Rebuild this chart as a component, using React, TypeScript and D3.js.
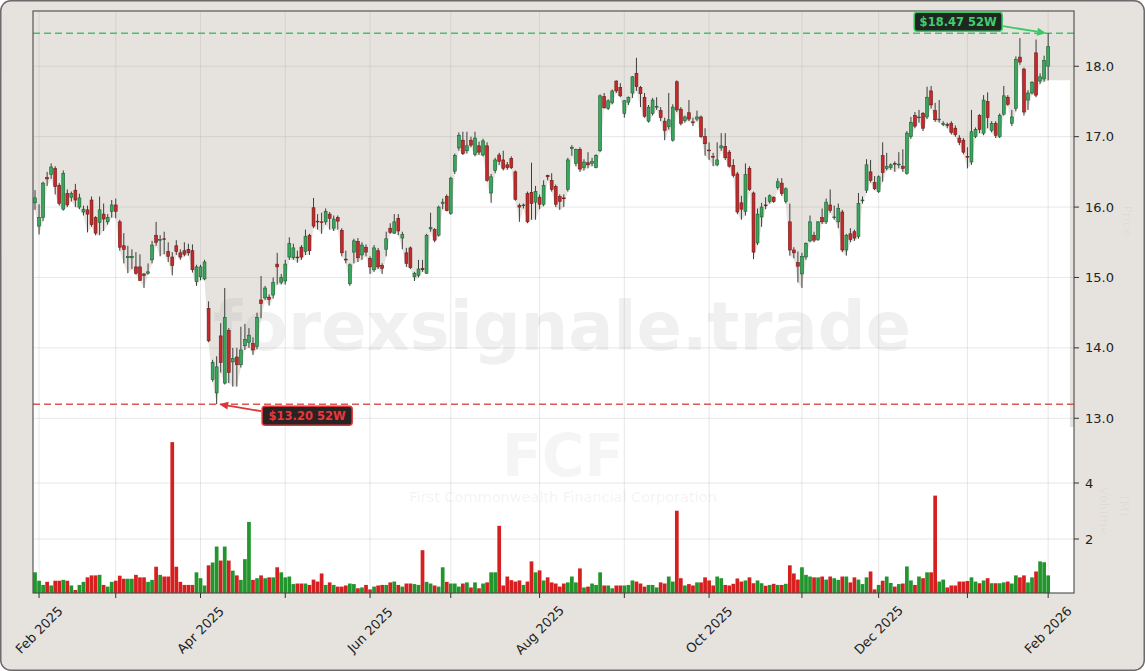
import React from 'react';
import * as d3 from 'd3';

// daily candles, Jan 31 2025 .. Feb 2 2026: [open, high, low, close]
const ohlc: [number, number, number, number][] = [
  [16.06, 16.24, 15.96, 16.13], [15.73, 16.04, 15.61, 15.85], [15.85, 16.36, 15.80, 16.34], [16.42, 16.50, 16.30, 16.40], [16.46, 16.62, 16.40, 16.57],
  [16.55, 16.58, 16.18, 16.29], [16.31, 16.34, 16.02, 16.05], [15.97, 16.52, 15.95, 16.48], [16.19, 16.25, 16.00, 16.03], [16.14, 16.22, 16.08, 16.19],
  // 10
  [16.24, 16.33, 16.00, 16.10], [16.00, 16.19, 15.97, 16.13], [15.93, 16.02, 15.88, 15.97], [15.96, 16.02, 15.64, 15.90], [16.10, 16.15, 15.72, 15.75],
  [15.85, 15.87, 15.60, 15.63], [15.78, 16.15, 15.60, 15.96], [15.90, 16.05, 15.66, 15.83], [15.79, 15.90, 15.75, 15.85], [15.94, 16.10, 15.85, 16.03],
  // 20
  [16.03, 16.12, 15.84, 15.94], [15.79, 15.82, 15.38, 15.43], [15.45, 15.63, 15.20, 15.40], [15.28, 15.45, 15.06, 15.30], [15.28, 15.40, 15.12, 15.30],
  [15.15, 15.36, 15.04, 15.06], [15.15, 15.33, 14.95, 14.96], [15.05, 15.06, 14.85, 15.03], [15.06, 15.20, 15.04, 15.08], [15.25, 15.52, 15.20, 15.46],
  // 30
  [15.60, 15.79, 15.45, 15.50], [15.53, 15.60, 15.30, 15.54], [15.55, 15.65, 15.33, 15.54], [15.37, 15.50, 15.22, 15.30], [15.29, 15.36, 15.03, 15.17],
  [15.45, 15.53, 15.32, 15.37], [15.35, 15.40, 15.25, 15.29], [15.38, 15.50, 15.30, 15.33], [15.40, 15.48, 15.31, 15.35], [15.38, 15.47, 15.07, 15.11],
  // 40
  [14.94, 15.18, 14.88, 15.15], [15.01, 15.18, 14.96, 15.15], [14.98, 15.25, 14.96, 15.22], [14.56, 14.66, 14.08, 14.10], [13.55, 13.83, 13.52, 13.79],
  [13.36, 13.88, 13.20, 13.73], [14.17, 14.35, 13.65, 13.79], [13.50, 14.85, 13.48, 14.43], [14.25, 14.28, 13.50, 13.65], [13.80, 14.00, 13.45, 13.85],
  // 50
  [13.87, 14.00, 13.45, 13.76], [13.76, 14.30, 13.72, 13.97], [14.03, 14.34, 13.97, 14.12], [14.08, 14.28, 14.00, 14.18], [14.06, 14.15, 13.90, 13.97],
  [14.02, 14.50, 13.98, 14.43], [14.68, 15.02, 14.42, 14.63], [14.71, 14.88, 14.68, 14.85], [14.72, 14.76, 14.60, 14.69], [14.75, 15.00, 14.70, 14.93],
  // 60
  [15.19, 15.35, 14.90, 15.15], [14.93, 15.05, 14.90, 15.00], [14.95, 15.25, 14.90, 15.19], [15.29, 15.57, 15.25, 15.48], [15.28, 15.48, 15.25, 15.42],
  [15.29, 15.38, 15.21, 15.28], [15.43, 15.46, 15.25, 15.29], [15.37, 15.68, 15.32, 15.58], [15.60, 15.62, 15.32, 15.38], [15.99, 16.13, 15.70, 15.73],
  // 70
  [15.80, 15.90, 15.68, 15.79], [15.79, 15.92, 15.62, 15.78], [15.79, 15.98, 15.75, 15.94], [15.90, 15.93, 15.68, 15.84], [15.70, 15.88, 15.66, 15.83],
  [15.85, 15.88, 15.68, 15.80], [15.67, 15.70, 15.30, 15.35], [15.26, 15.38, 15.20, 15.25], [14.91, 15.20, 14.88, 15.18], [15.36, 15.55, 15.20, 15.52],
  // 80
  [15.51, 15.56, 15.22, 15.28], [15.32, 15.50, 15.25, 15.46], [15.43, 15.47, 15.30, 15.36], [15.27, 15.30, 15.05, 15.15], [15.11, 15.46, 15.08, 15.42],
  [15.38, 15.42, 15.12, 15.15], [15.17, 15.20, 15.05, 15.13], [15.40, 15.65, 15.30, 15.55], [15.70, 15.77, 15.62, 15.64], [15.63, 15.90, 15.62, 15.79],
  // 90
  [15.84, 15.90, 15.60, 15.66], [15.56, 15.65, 15.40, 15.61], [15.35, 15.42, 15.15, 15.20], [15.42, 15.44, 15.12, 15.14], [15.01, 15.08, 14.95, 15.06],
  [15.03, 15.25, 15.00, 15.12], [15.13, 15.25, 15.08, 15.11], [15.06, 15.62, 15.05, 15.60], [15.69, 15.92, 15.65, 15.71], [15.68, 15.70, 15.50, 15.53],
  // 100
  [15.60, 16.02, 15.58, 16.00], [16.05, 16.12, 15.97, 16.07], [16.15, 16.18, 15.94, 15.95], [15.91, 16.43, 15.89, 16.41], [16.51, 16.76, 16.47, 16.73],
  [16.84, 17.06, 16.80, 17.02], [16.95, 17.07, 16.74, 16.76], [16.80, 17.07, 16.76, 16.87], [16.95, 17.00, 16.85, 16.88], [16.75, 17.07, 16.72, 16.98],
  // 110
  [16.87, 16.93, 16.74, 16.78], [16.74, 16.97, 16.72, 16.94], [16.87, 16.92, 16.36, 16.38], [16.20, 16.47, 16.06, 16.43], [16.52, 16.70, 16.48, 16.67],
  [16.74, 16.77, 16.60, 16.65], [16.67, 16.80, 16.52, 16.55], [16.60, 16.64, 16.53, 16.56], [16.69, 16.72, 16.54, 16.56], [16.50, 16.52, 16.09, 16.11],
  // 120
  [16.02, 16.05, 15.79, 16.00], [16.02, 16.05, 15.98, 16.03], [16.19, 16.22, 15.77, 15.79], [16.21, 16.63, 15.82, 16.05], [16.07, 16.30, 15.82, 16.22],
  [16.14, 16.18, 15.97, 16.04], [16.04, 16.38, 16.01, 16.31], [16.45, 16.46, 16.38, 16.43], [16.38, 16.48, 16.22, 16.25], [16.29, 16.32, 16.00, 16.04],
  // 130
  [16.15, 16.18, 15.96, 16.08], [16.13, 16.18, 16.00, 16.12], [16.25, 16.70, 16.22, 16.67], [16.83, 16.88, 16.73, 16.85], [16.62, 16.83, 16.58, 16.82],
  [16.82, 16.85, 16.50, 16.54], [16.56, 16.68, 16.52, 16.64], [16.63, 16.78, 16.55, 16.60], [16.62, 16.70, 16.58, 16.65], [16.56, 16.75, 16.55, 16.73],
  // 140
  [16.80, 17.60, 16.78, 17.58], [17.57, 17.62, 17.40, 17.41], [17.40, 17.53, 17.38, 17.51], [17.48, 17.67, 17.46, 17.65], [17.79, 17.80, 17.62, 17.65],
  [17.70, 17.76, 17.56, 17.58], [17.33, 17.52, 17.27, 17.51], [17.49, 17.57, 17.45, 17.56], [17.62, 17.86, 17.55, 17.85], [17.90, 18.12, 17.65, 17.71],
  // 150
  [17.70, 17.72, 17.42, 17.61], [17.56, 17.62, 17.27, 17.29], [17.22, 17.45, 17.20, 17.42], [17.33, 17.55, 17.30, 17.52], [17.42, 17.56, 17.38, 17.43],
  [17.37, 17.42, 17.22, 17.27], [17.22, 17.27, 16.95, 17.09], [17.14, 17.62, 17.10, 17.24], [16.95, 17.46, 16.93, 17.42], [17.78, 17.80, 17.35, 17.38],
  // 160
  [17.39, 17.42, 17.16, 17.19], [17.23, 17.30, 17.20, 17.28], [17.34, 17.52, 17.22, 17.25], [17.21, 17.27, 17.15, 17.20], [17.25, 17.37, 17.22, 17.28],
  [17.28, 17.30, 16.98, 17.00], [17.00, 17.12, 16.73, 16.90], [16.81, 16.92, 16.67, 16.80], [16.72, 16.77, 16.58, 16.71], [16.60, 16.92, 16.58, 16.67],
  // 170
  [16.84, 17.05, 16.80, 16.87], [16.86, 17.05, 16.67, 16.70], [16.78, 16.81, 16.56, 16.58], [16.59, 16.68, 16.42, 16.45], [16.47, 16.50, 15.90, 15.93],
  [16.06, 16.16, 15.82, 15.97], [15.94, 16.62, 15.88, 16.46], [16.55, 16.58, 16.23, 16.25], [16.20, 16.22, 15.26, 15.36], [15.49, 15.98, 15.46, 15.90],
  // 180
  [15.86, 16.06, 15.72, 16.00], [16.03, 16.14, 15.97, 16.02], [16.08, 16.18, 16.05, 16.16], [16.14, 16.15, 16.06, 16.08], [16.28, 16.41, 16.25, 16.36],
  [16.34, 16.41, 16.16, 16.19], [16.08, 16.28, 16.05, 16.26], [15.79, 16.05, 15.31, 15.39], [15.39, 15.43, 15.27, 15.35], [15.21, 15.37, 14.93, 15.16],
  // 190
  [15.05, 15.35, 14.85, 15.30], [15.29, 15.50, 15.25, 15.48], [15.52, 15.88, 15.50, 15.79], [15.60, 15.65, 15.50, 15.53], [15.54, 15.80, 15.52, 15.79],
  [15.85, 15.98, 15.76, 15.79], [15.79, 16.12, 15.76, 16.07], [16.03, 16.25, 15.92, 15.95], [15.85, 16.02, 15.82, 15.86], [15.79, 16.05, 15.70, 15.98],
  // 200
  [15.93, 15.96, 15.36, 15.39], [15.39, 15.62, 15.31, 15.60], [15.62, 15.70, 15.50, 15.54], [15.65, 15.68, 15.52, 15.56], [15.58, 16.20, 15.55, 16.05],
  [16.09, 16.15, 16.05, 16.10], [16.24, 16.68, 16.20, 16.60], [16.50, 16.67, 16.35, 16.38], [16.35, 16.44, 16.24, 16.26], [16.22, 16.45, 16.20, 16.43],
  // 210
  [16.73, 16.92, 16.36, 16.49], [16.55, 16.77, 16.52, 16.58], [16.56, 16.62, 16.53, 16.60], [16.62, 16.65, 16.50, 16.61], [16.60, 16.78, 16.55, 16.61],
  [16.58, 16.82, 16.50, 16.55], [16.48, 17.08, 16.46, 17.05], [17.00, 17.28, 16.97, 17.20], [17.30, 17.35, 17.12, 17.15], [17.27, 17.38, 17.20, 17.28],
  // 220
  [17.33, 17.35, 17.08, 17.12], [17.28, 17.71, 17.25, 17.56], [17.65, 17.72, 17.40, 17.45], [17.37, 17.48, 17.21, 17.24], [17.24, 17.52, 17.20, 17.25],
  [17.17, 17.22, 17.15, 17.19], [17.17, 17.20, 17.12, 17.16], [17.19, 17.22, 17.03, 17.06], [17.12, 17.16, 17.00, 17.03], [16.98, 17.02, 16.88, 16.92],
  // 230
  [16.95, 16.98, 16.75, 16.78], [16.72, 16.85, 16.55, 16.71], [16.64, 17.38, 16.60, 17.07], [17.00, 17.13, 16.98, 17.10], [17.30, 17.32, 17.05, 17.10],
  [17.05, 17.59, 17.02, 17.52], [17.50, 17.63, 17.12, 17.27], [17.09, 17.22, 17.06, 17.19], [17.19, 17.22, 16.98, 17.02], [17.00, 17.33, 16.98, 17.30],
  // 240
  [17.32, 17.72, 17.30, 17.58], [17.56, 17.59, 17.44, 17.46], [17.19, 17.38, 17.15, 17.28], [17.40, 18.14, 17.36, 18.10], [18.13, 18.40, 18.02, 18.06],
  [17.96, 17.98, 17.30, 17.35], [17.52, 17.66, 17.38, 17.62], [17.62, 17.79, 17.60, 17.77], [18.19, 18.38, 17.56, 17.59], [17.79, 17.90, 17.75, 17.85],
  // 250
  [17.82, 18.15, 17.78, 18.08], [18.00, 18.47, 17.80, 18.28],
];

// volume in millions
const volumes = [
  0.81, 0.51, 0.36, 0.47, 0.34, 0.51, 0.51, 0.54, 0.51, 0.34, 0.18, 0.36, 0.47, 0.63, 0.70, 0.70, 0.72, 0.36, 0.30, 0.47, 0.51,
  0.69, 0.58, 0.58, 0.58, 0.72, 0.63, 0.63, 0.47, 0.54, 1.01, 0.72, 0.66, 0.66, 5.46, 1.01, 0.47, 0.36, 0.36, 0.36, 0.81, 0.60, 0.34,
  1.06, 1.16, 1.73, 1.23, 1.73, 1.23, 0.87, 0.70, 0.54, 1.28, 2.61, 0.54, 0.60, 0.70, 0.60, 0.63, 0.63, 0.99, 0.81, 0.63, 0.66, 0.39, 0.41, 0.41,
  0.41, 0.36, 0.55, 0.48, 0.77, 0.36, 0.45, 0.36, 0.30, 0.30, 0.34, 0.41, 0.39, 0.24, 0.27, 0.36, 0.20, 0.30, 0.34,
  0.36, 0.36, 0.45, 0.48, 0.36, 0.30, 0.41, 0.41, 0.39, 0.36, 1.60, 0.47, 0.41, 0.34, 0.30, 0.99, 0.47, 0.41, 0.41, 0.30,
  0.41, 0.45, 0.27, 0.45, 0.24, 0.41, 0.45, 0.81, 0.81, 2.47, 0.34, 0.66, 0.53, 0.48, 0.52,
  0.36, 0.48, 1.20, 0.81, 0.88, 0.52, 0.63, 0.45, 0.41, 0.30, 0.41, 0.45, 0.66, 0.45, 0.95, 0.27, 0.30, 0.41, 0.36, 0.81,
  0.34, 0.34, 0.24, 0.34, 0.34, 0.34, 0.36, 0.52, 0.48, 0.41, 0.30, 0.36, 0.36, 0.27, 0.45, 0.41, 0.66, 0.48, 3.01, 0.60,
  0.34, 0.39, 0.34, 0.45, 0.45, 0.63, 0.52, 0.34, 0.66, 0.60, 0.36, 0.34, 0.40, 0.59, 0.48, 0.52, 0.63, 0.42, 0.52, 0.42,
  0.33, 0.36, 0.40, 0.36, 0.36, 0.40, 1.06, 0.77, 0.55, 0.99,
  0.72, 0.66, 0.63, 0.63, 0.66, 0.55, 0.66, 0.60, 0.54, 0.66, 0.66, 0.45, 0.63, 0.55, 0.39, 0.63, 0.84, 0.20, 0.36, 0.51,
  0.66, 0.43, 0.30, 0.39, 0.41, 1.02, 0.52, 0.36, 0.66, 0.60, 0.81, 0.81,
  3.55, 0.48, 0.55, 0.27, 0.34, 0.34, 0.48, 0.48, 0.50, 0.63, 0.48, 0.42, 0.52, 0.60, 0.42, 0.42, 0.42, 0.45, 0.48, 0.41,
  0.70, 0.63, 0.70, 0.45, 0.63, 0.84, 1.20, 1.17, 0.70,
];

// first trading day of each month (candle index)
const tickIndex = [1, 20, 41, 62, 83, 103, 125, 146, 167, 190, 209, 231, 251];
const tickLabels = ['Feb 2025', '', 'Apr 2025', '', 'Jun 2025', '', 'Aug 2025', '', 'Oct 2025', '', 'Dec 2025', '', 'Feb 2026'];
const priceTicks = [13, 14, 15, 16, 17, 18];
const volumeTicks = [2, 4];
const high52 = 18.47;
const low52 = 13.2;
const high52Index = 251;
const low52Index = 45;

const W = 1145;
const H = 671;
const LEFT = 33;
const RIGHT = 1074;
const TOP = 11;
const SPLIT = 427;
const BOTTOM = 593;

const FONT = 'DejaVu Sans, sans-serif';
const BG = '#e6e3de';

const App: React.FC = () => {
  const x = d3.scaleLinear().domain([-0.5, 257.4]).range([LEFT, RIGHT]);
  const y = d3.scaleLinear().domain([12.876, 18.785]).range([SPLIT, TOP]);
  const yv = d3.scaleLinear().domain([0, 6]).range([595, SPLIT]);
  const step = x(1) - x(0);
  const bodyW = step * 0.72;
  const barW = step * 0.92;

  // white area under the lows
  const lows = ohlc.map(d => d[2]);
  const fillPts: [number, number][] = [[-0.5, lows[0]], ...lows.map((l, i) => [i, l] as [number, number]), [256.4, lows[lows.length - 1]]];
  const area = d3.area<[number, number]>()
    .x(d => x(d[0]))
    .y0(SPLIT)
    .y1(d => y(d[1]));

  const hiTarget = { x: x(high52Index) - 2, y: y(high52) };
  const loTarget = { x: x(low52Index) + 2.5, y: y(low52) };
  const hiBox = { cx: hiTarget.x - 88, cy: hiTarget.y - 11.5, w: 88, h: 19 };
  const loBox = { cx: loTarget.x + 88, cy: loTarget.y + 11.5, w: 90, h: 19 };

  const arrow = (x1: number, y1: number, x2: number, y2: number, color: string) => {
    const a = Math.atan2(y2 - y1, x2 - x1);
    const L = 9, Wd = 4;
    const bx = x2 - L * Math.cos(a), by = y2 - L * Math.sin(a);
    const p = [
      [x2, y2],
      [bx + Wd * Math.sin(a), by - Wd * Math.cos(a)],
      [bx - Wd * Math.sin(a), by + Wd * Math.cos(a)],
    ].map(q => q.join(',')).join(' ');
    return (
      <g>
        <line x1={x1} y1={y1} x2={bx} y2={by} stroke={color} strokeWidth={1.8} />
        <polygon points={p} fill={color} />
      </g>
    );
  };

  return (
    <div style={{ position: 'absolute', left: 0, top: 0 }}>
      <svg width={W} height={H} style={{ display: 'block' }} fontFamily={FONT}>
        <defs>
          <clipPath id="plotClip">
            <rect x={LEFT} y={TOP} width={RIGHT - LEFT} height={BOTTOM - TOP} />
          </clipPath>
        </defs>
        <rect x={0.75} y={0.75} width={W - 1.5} height={H - 1.5} rx={10} fill={BG} stroke="#6b6b6b" strokeWidth={1.5} />

        {/* panels */}
        <rect x={LEFT} y={TOP} width={RIGHT - LEFT} height={SPLIT - TOP} fill={BG} />
        <rect x={LEFT} y={SPLIT} width={RIGHT - LEFT} height={BOTTOM - SPLIT} fill="#ffffff" />
        <path d={area(fillPts) || ''} fill="#ffffff" clipPath="url(#plotClip)" />

        {/* grid */}
        <g stroke="#a8a8a8" strokeOpacity={0.35} strokeWidth={0.8}>
          {priceTicks.map(t => (
            <line key={'pg' + t} x1={LEFT} x2={RIGHT} y1={y(t)} y2={y(t)} />
          ))}
          {volumeTicks.map(t => (
            <line key={'vg' + t} x1={LEFT} x2={RIGHT} y1={yv(t)} y2={yv(t)} />
          ))}
          {tickIndex.map(t => (
            <line key={'xg' + t} x1={x(t)} x2={x(t)} y1={TOP} y2={BOTTOM} />
          ))}
        </g>

        {/* watermark */}
        <g textAnchor="middle" fontWeight="bold">
          <text x={562} y={350} fontSize={67} fill="#9a9a9a" fillOpacity={0.15}>forexsignale.trade</text>
          <text x={563} y={476} fontSize={58} fill="#9a9a9a" fillOpacity={0.1}>FCF</text>
          <text x={563} y={502} fontSize={14.5} fontWeight="normal" fill="#9a9a9a" fillOpacity={0.12}>First Commonwealth Financial Corporation</text>
        </g>

        {/* 52 week lines */}
        <line x1={LEFT} x2={RIGHT} y1={y(high52)} y2={y(high52)} stroke="#45c26b" strokeWidth={1.6} strokeDasharray="7 4" />
        <line x1={LEFT} x2={RIGHT} y1={y(low52)} y2={y(low52)} stroke="#d95757" strokeWidth={1.6} strokeDasharray="7 4" />

        {/* candles */}
        <g clipPath="url(#plotClip)">
          {ohlc.map(([o, h, l, c], i) => {
            const up = c >= o;
            const cx = x(i);
            const top = y(Math.max(o, c));
            const bh = Math.max(0.8, Math.abs(y(o) - y(c)));
            return (
              <g key={'c' + i}>
                <line x1={cx} x2={cx} y1={y(h)} y2={y(l)} stroke="#3d3d3d" strokeWidth={1} />
                <rect
                  x={cx - bodyW / 2}
                  y={top}
                  width={bodyW}
                  height={bh}
                  fill={up ? '#37a85b' : '#c42a2a'}
                  stroke={up ? '#1d5c34' : '#6b1c1c'}
                  strokeWidth={0.6}
                />
              </g>
            );
          })}

          {/* volume */}
          {volumes.map((v, i) => {
            const up = ohlc[i][3] >= ohlc[i][0];
            return (
              <rect
                key={'v' + i}
                x={x(i) - barW / 2}
                y={yv(v)}
                width={barW}
                height={yv(0) - yv(v)}
                fill={up ? '#22962c' : '#d62020'}
              />
            );
          })}
        </g>

        {/* frame */}
        <rect x={LEFT} y={TOP} width={RIGHT - LEFT} height={BOTTOM - TOP} fill="none" stroke="#4a4a4a" strokeWidth={1.1} />

        {/* right axis: price */}
        <g fontSize={13} fill="#222">
          {priceTicks.map(t => (
            <g key={'pt' + t}>
              <line x1={RIGHT} x2={RIGHT + 5} y1={y(t)} y2={y(t)} stroke="#333" />
              <text x={RIGHT + 11} y={y(t)} dominantBaseline="central">{t.toFixed(1)}</text>
            </g>
          ))}
          {volumeTicks.map(t => (
            <g key={'vt' + t}>
              <line x1={RIGHT} x2={RIGHT + 5} y1={yv(t)} y2={yv(t)} stroke="#333" />
              <text x={RIGHT + 11} y={yv(t)} dominantBaseline="central">{t}</text>
            </g>
          ))}
        </g>

        {/* faint axis titles */}
        <g fontSize={13} fill="#000" fillOpacity={0.045} textAnchor="middle">
          <text transform={`translate(1127,221) rotate(90)`} dominantBaseline="central">Price</text>
          <text transform={`translate(1104,511) rotate(90)`} dominantBaseline="central">Volume</text>
          <text transform={`translate(1124,506) rotate(90)`} dominantBaseline="central">(M)</text>
        </g>

        {/* bottom axis */}
        <g fontSize={13} fill="#222">
          {tickIndex.map((t, k) => (
            <g key={'xt' + t}>
              <line x1={x(t)} x2={x(t)} y1={BOTTOM} y2={BOTTOM + 5} stroke="#333" />
              {tickLabels[k] && (
                <text
                  transform={`translate(${x(t)},${BOTTOM + 37}) rotate(-45)`}
                  textAnchor="middle"
                  dominantBaseline="central"
                >
                  {tickLabels[k]}
                </text>
              )}
            </g>
          ))}
        </g>

        {/* 52W annotations */}
        {arrow(hiBox.cx + hiBox.w / 2 + 1, hiBox.cy + 4.5, hiTarget.x, hiTarget.y, '#3cc866')}
        <rect x={hiBox.cx - hiBox.w / 2} y={hiBox.cy - hiBox.h / 2} width={hiBox.w} height={hiBox.h} rx={3}
          fill="#1f2721" stroke="#3cc866" strokeWidth={1.5} />
        <text x={hiBox.cx} y={hiBox.cy} textAnchor="middle" dominantBaseline="central" fontSize={11.5} fontWeight="bold" fill="#3fcf6e">
          ${high52.toFixed(2)} 52W
        </text>

        {arrow(loBox.cx - loBox.w / 2 - 1, loBox.cy - 4.5, loTarget.x, loTarget.y, '#e03535')}
        <rect x={loBox.cx - loBox.w / 2} y={loBox.cy - loBox.h / 2} width={loBox.w} height={loBox.h} rx={3}
          fill="#2a2323" stroke="#e03535" strokeWidth={1.5} />
        <text x={loBox.cx} y={loBox.cy} textAnchor="middle" dominantBaseline="central" fontSize={11.5} fontWeight="bold" fill="#e8383a">
          ${low52.toFixed(2)} 52W
        </text>
      </svg>
    </div>
  );
};

export default App;
